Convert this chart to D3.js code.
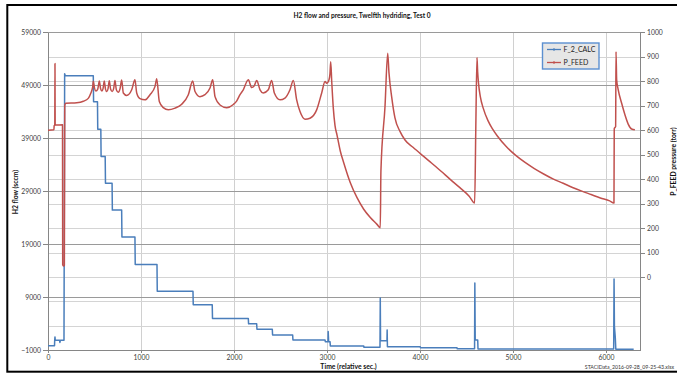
<!DOCTYPE html>
<html>
<head>
<meta charset="utf-8">
<script src="https://cdn.jsdelivr.net/npm/d3@7"></script>
<style>
  body { margin: 0; background: #fff; }
  svg { display: block; }
  text { font-family: Lato, "Liberation Sans", sans-serif; }
</style>
</head>
<body>
<svg id="chart" width="677" height="373"></svg>
<script>
// H2 flow (sccm) readings: time in relative seconds, value in sccm
const flowTimes = [0, 70, 72, 75, 78, 125, 128, 133, 172, 179, 186, 487, 490, 532, 535, 568, 571, 615, 618,
  689, 692, 792, 795, 935, 938, 1172, 1175, 1559, 1562, 1766, 1769, 2154, 2157, 2244, 2247, 2412, 2415,
  2631, 2634, 2979, 2982, 3011, 3013, 3018, 3033, 3036, 3395, 3398, 3570, 3573, 3576, 3645, 3647, 3650,
  4003, 4006, 4398, 4401, 4587, 4590, 4594, 4621, 4624, 6083, 6087, 6091, 6100, 6106, 6298];
const flowValues = [-100, -100, 900, 1550, 900, 900, 500, 900, 900, 51200, 50800, 50800, 45900, 45900, 40700, 40700, 35570, 35570, 30530,
  30530, 25460, 25460, 20390, 20390, 15210, 15210, 10140, 10140, 7620, 7620, 5020, 5020, 4010, 4010, 3000, 3000, 1920,
  1920, 970, 970, 650, 650, 2550, 650, 650, -165, -165, -410, -410, 8890, 840, 840, 2870, -300,
  -300, -490, -490, -680, -680, 11730, 970, 970, -735, -735, 12490, 3500, 1500, -790, -790];

// Feed pressure readings: time in relative seconds, value in torr
const pressTimes = [0, 64, 66, 73, 75, 77, 86, 156, 158, 166, 176, 180, 190, 309, 380, 433, 459, 481, 487,
  500, 515, 535, 552, 565, 580, 592, 605, 618, 632, 646, 659, 673, 690, 706, 720, 735, 755, 775, 792,
  810, 846, 900, 935, 954, 989, 1043, 1097, 1151, 1169, 1197, 1240, 1294, 1366, 1438, 1509, 1556,
  1581, 1634, 1688, 1742, 1771, 1796, 1850, 1922, 1993, 2030, 2065, 2100, 2154, 2190, 2218, 2244,
  2280, 2315, 2369, 2405, 2434, 2495, 2548, 2602, 2638, 2674, 2710, 2764, 2817, 2889, 2943, 2979,
  2997, 3022, 3032, 3040, 3051, 3068, 3086, 3108, 3143, 3180, 3251, 3323, 3395, 3466, 3538, 3573,
  3580, 3624, 3653, 3667, 3696, 3731, 3785, 3839, 3925, 4026, 4127, 4227, 4328, 4429, 4529, 4588,
  4600, 4613, 4620, 4630, 4650, 4680, 4730, 4780, 4830, 4930, 5030, 5130, 5230, 5330, 5430, 5540,
  5640, 5740, 5840, 5940, 6040, 6086, 6089, 6104, 6108, 6115, 6132, 6168, 6204, 6239, 6276, 6311];
const pressValues = [600, 602, 618, 620, 872, 622, 621, 622, 50, 45, 48, 700, 710, 712, 718, 730, 750, 778, 800,
  772, 760, 768, 801, 770, 760, 770, 801, 768, 758, 770, 802, 768, 758, 770, 803, 765, 755, 770, 805,
  752, 742, 765, 806, 752, 729, 724, 745, 779, 810, 717, 692, 683, 690, 706, 745, 801,
  758, 737, 745, 772, 806, 737, 703, 692, 705, 720, 745, 765, 806, 774, 781, 803,
  765, 752, 765, 803, 752, 724, 731, 765, 803, 724, 676, 645, 649, 683, 752, 799,
  792, 806, 830, 880, 799, 690, 620, 580, 515, 467, 385, 324, 277, 243, 215, 201,
  432, 697, 914, 833, 735, 650, 595, 560, 530, 497, 465, 432, 398, 365, 330, 302,
  600, 897, 840, 790, 735, 690, 640, 605, 577, 532, 497, 468, 443, 421, 401, 383,
  366, 351, 337, 323, 311, 302, 606, 615, 921, 806, 765, 711, 663, 625, 605, 602];

const flowTicks = [-1000, 9000, 19000, 29000, 39000, 49000, 59000];
const pressTicks = [0, 100, 200, 300, 400, 500, 600, 700, 800, 900, 1000];
const pressGrid = [-300, -200, -100, 0, 100, 200, 300, 400, 500, 600, 700, 800, 900, 1000];
const timeTicks = [0, 1000, 2000, 3000, 4000, 5000, 6000];
const seriesNames = ["F_2_CALC", "P_FEED"];

const W = 677, H = 373;
const plot = { left: 48, right: 640, top: 32.3, bottom: 350.4 };
const blue = "#4a7ebb", red = "#c0504d";

const svg = d3.select("#chart");
svg.append("rect").attr("width", W).attr("height", H).attr("fill", "#fff");

const x = d3.scaleLinear().domain([0, 6366]).range([plot.left, plot.right]);
const yFlow = d3.scaleLinear().domain([-1000, 59000]).range([plot.bottom, plot.top]);
const yPress = d3.scaleLinear().domain([-300, 1000]).range([plot.bottom, plot.top]);

// gridlines
const grid = svg.append("g").attr("shape-rendering", "crispEdges");
grid.selectAll(".vg").data(timeTicks.slice(1)).join("line")
  .attr("x1", d => Math.round(x(d)) + 0.5).attr("x2", d => Math.round(x(d)) + 0.5)
  .attr("y1", plot.top).attr("y2", plot.bottom)
  .attr("stroke", "#d0d0d0").attr("stroke-width", 1);
grid.selectAll(".pg").data(pressGrid).join("line")
  .attr("x1", plot.left).attr("x2", plot.right)
  .attr("y1", d => Math.round(yPress(d)) + 0.5).attr("y2", d => Math.round(yPress(d)) + 0.5)
  .attr("stroke", "#d4d4d4").attr("stroke-width", 1);
grid.selectAll(".fg").data(flowTicks).join("line")
  .attr("x1", plot.left).attr("x2", plot.right)
  .attr("y1", d => Math.round(yFlow(d)) + 0.5).attr("y2", d => Math.round(yFlow(d)) + 0.5)
  .attr("stroke", "#9a9a9a").attr("stroke-width", 1);

// axes
function styleAxis(g) {
  g.attr("shape-rendering", "crispEdges");
  g.select(".domain").attr("stroke", "#868686");
  g.selectAll(".tick line").attr("stroke", "#868686");
  g.selectAll(".tick text").attr("fill", "#404040").style("font-size", "6.8px")
    .style("font-family", "Lato, 'Liberation Sans', sans-serif");
}
svg.append("g").attr("transform", `translate(${plot.left},0)`)
  .call(d3.axisLeft(yFlow).tickValues(flowTicks).tickFormat(d3.format("d")).tickSize(5).tickSizeOuter(0).tickPadding(2))
  .call(styleAxis);
svg.append("g").attr("transform", `translate(${plot.right},0)`)
  .call(d3.axisRight(yPress).tickValues(pressTicks).tickFormat(d3.format("d")).tickSize(5).tickSizeOuter(0).tickPadding(2))
  .call(styleAxis);
svg.append("g").attr("transform", `translate(0,${plot.bottom})`)
  .call(d3.axisBottom(x).tickValues(timeTicks).tickFormat(d3.format("d")).tickSize(3).tickSizeOuter(0).tickPadding(2))
  .call(styleAxis);

// series
const flowData = flowTimes.map((t, i) => [t, flowValues[i]]);
const pressData = pressTimes.map((t, i) => [t, pressValues[i]]);

svg.append("path").datum(flowData)
  .attr("fill", "none").attr("stroke", blue).attr("stroke-width", 1.5).attr("stroke-linejoin", "round")
  .attr("d", d3.line().x(d => x(d[0])).y(d => yFlow(d[1])));

svg.append("path").datum(pressData)
  .attr("fill", "none").attr("stroke", red).attr("stroke-width", 1.5).attr("stroke-linejoin", "round")
  .attr("d", d3.line().curve(d3.curveMonotoneX).x(d => x(d[0])).y(d => yPress(d[1])));

// legend
const lg = svg.append("g").attr("transform", "translate(542.5,43)");
lg.append("rect").attr("width", 56.5).attr("height", 26)
  .attr("fill", "#e6e6e6").attr("stroke", "#5b8fd0").attr("stroke-width", 1.4);
[blue, red].forEach((c, i) => {
  const yy = 6.5 + i * 13;
  lg.append("line").attr("x1", 4.5).attr("x2", 18.5).attr("y1", yy).attr("y2", yy)
    .attr("stroke", c).attr("stroke-width", 1.3);
  lg.append("rect").attr("x", 10.5).attr("y", yy - 1).attr("width", 2).attr("height", 2).attr("fill", c);
  lg.append("text").attr("x", 21).attr("y", yy).attr("dy", "0.35em")
    .style("font-size", "7px").attr("fill", "#222").text(seriesNames[i]);
});

// titles
svg.append("text").attr("x", 362).attr("y", 15.7).attr("dy", "0.35em").attr("text-anchor", "middle")
  .style("font-size", "6.6px").style("font-weight", "bold").attr("fill", "#111")
  .text("H2 flow and pressure, Twelfth hydriding, Test 0");
svg.append("text").attr("transform", "translate(15.7,192) rotate(-90)").attr("dy", "0.35em")
  .attr("text-anchor", "middle").style("font-size", "6.8px").style("font-weight", "bold").attr("fill", "#111")
  .text("H2 flow (sccm)");
svg.append("text").attr("transform", "translate(674,161.5) rotate(-90)").attr("dy", "0.35em")
  .attr("text-anchor", "middle").style("font-size", "6.8px").style("font-weight", "bold").attr("fill", "#111")
  .text("P_FEED pressure (torr)");
svg.append("text").attr("x", 348.5).attr("y", 366.8).attr("dy", "0.35em").attr("text-anchor", "middle")
  .style("font-size", "6.8px").style("font-weight", "bold").attr("fill", "#111")
  .text("Time (relative sec.)");
svg.append("text").attr("x", 674).attr("y", 366.7).attr("dy", "0.35em").attr("text-anchor", "end")
  .style("font-size", "5.2px").attr("fill", "#333")
  .text("STACIData_2016-09-28_09-25-43.xlsx");

// chart frame
svg.append("rect").attr("x", 7.3).attr("y", 5).attr("width", 720).attr("height", 366.7)
  .attr("fill", "none").attr("stroke", "#000").attr("stroke-width", 2);
</script>
</body>
</html>
